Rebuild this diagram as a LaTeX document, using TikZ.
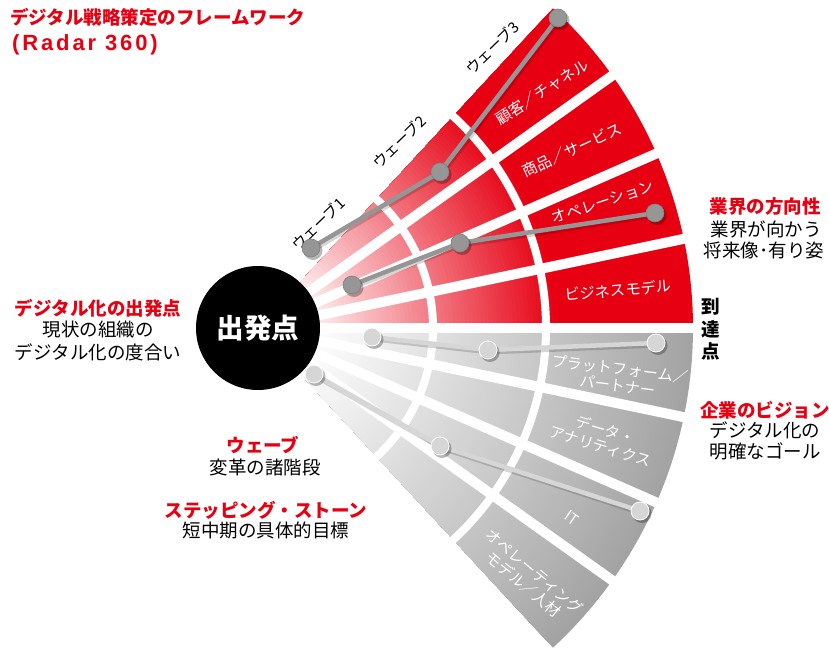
\documentclass[tikz,border=0pt]{standalone}
\usepackage{fontspec}
\setmainfont{Noto Sans CJK JP}
\newfontfamily\latinb{Liberation Sans}[LetterSpace=13]
\definecolor{rred}{RGB}{230,0,18}
\definecolor{dotdark}{RGB}{150,150,150}
\definecolor{dotlight}{RGB}{214,214,214}
\tikzset{
  sidered/.style={text=rred, font=\bfseries\fontsize{18.5}{22}\selectfont, inner sep=0pt},
  sideblk/.style={text=black, font=\fontsize{18.5}{22}\selectfont, inner sep=0pt},
  seclabel/.style={text=white, font=\fontsize{15.3}{17}\selectfont, align=center, inner sep=0pt},
  wavelabel/.style={text=black, font=\fontsize{15}{18}\selectfont, inner sep=0pt, rotate=44},
  rdot/.style={circle, fill=dotdark, draw=dotdark!85!black, line width=0.6pt, minimum size=18pt, inner sep=0pt},
  gdot/.style={circle, fill=dotlight, draw=white, line width=0.8pt, minimum size=18pt, inner sep=0pt},
  dotshadow/.style={fill=black, opacity=0.28},
  lineshadow/.style={draw=black, opacity=0.16, line width=5pt},
  rline/.style={draw=dotdark, line width=4.5pt},
  gline/.style={draw=dotlight, line width=4.5pt},
  gapline/.style={draw=white, line width=10pt},
  gaparc/.style={draw=white, line width=8pt},
}
\begin{document}
\begin{tikzpicture}[x=1pt,y=1pt]
\useasboundingbox (0,0) rectangle (829,648);
\fill[white] (0,0) rectangle (829,648);
\coordinate (C) at (258,320);

% fan with radial gradient
\foreach \r in {435,431,...,51}{
  \pgfmathsetmacro\pr{min(100,max(6,8+(\r-62)/238*92))}
  \pgfmathsetmacro\pg{max(1,(\r-55)/380*36)}
  \fill[rred!\pr!white] (C) -- ++(0:\r) arc[start angle=0,end angle=47.3,radius=\r] -- cycle;
  \fill[black!\pg] (C) -- ++(-47.3:\r) arc[start angle=-47.3,end angle=0,radius=\r] -- cycle;
}
% white gaps
\foreach \a in {0,11.825,23.65,35.475,-11.825,-23.65,-35.475}{
  \draw[gapline] (C) -- ++(\a:445);
}
\draw[gaparc] (C) ++(-50:175) arc[start angle=-50,end angle=50,radius=175];
\draw[gaparc] (C) ++(-50:288) arc[start angle=-50,end angle=50,radius=288];

% start circle
\node[circle, fill=black, minimum size=124pt, inner sep=0pt, text=white,
      font=\bfseries\fontsize{27.5}{30}\selectfont] (start) at (C) {出発点};

% sector labels
\node[seclabel, rotate=33] (s1) at (542,556) {顧客／チャネル};
\node[seclabel, rotate=25] (s2) at (572,498) {商品／サービス};
\node[seclabel, rotate=18] (s3) at (603,446) {オペレーション};
\node[seclabel, rotate=5]  (s4) at (618,358) {ビジネスモデル};
\node[seclabel, rotate=-7] (s5) at (619,271) {プラットフォーム／\\パートナー};
\node[seclabel, rotate=-17] (s6) at (603,210) {データ・\\アナリティクス};
\node[seclabel, rotate=-35] (s7) at (572,130) {IT};
\node[seclabel, rotate=-40] (s8) at (529,70) {オペレーティング\\モデル／人材};

% wave labels
\node[wavelabel] (w1) at (318,424) {ウェーブ1};
\node[wavelabel] (w2) at (399,506) {ウェーブ2};
\node[wavelabel] (w3) at (492,600) {ウェーブ3};

% data points
\coordinate (p1) at (311,400); \coordinate (p2) at (440,476); \coordinate (p3) at (558,630);
\coordinate (q1) at (352,363); \coordinate (q2) at (460,405); \coordinate (q3) at (655,435);
\coordinate (r1) at (372,311); \coordinate (r2) at (488,298); \coordinate (r3) at (656,305);
\coordinate (t1) at (314,274); \coordinate (t2) at (440,202); \coordinate (t3) at (640,137);

% shadows of lines
\foreach \a/\b in {p1/p2,p2/p3,q1/q2,q2/q3,r1/r2,r2/r3,t1/t2,t2/t3}{
  \draw[lineshadow] ([shift={(1.5,-2)}]\a) -- ([shift={(1.5,-2)}]\b);
}
% lines
\draw[rline] (p1) -- (p2) -- (p3);
\draw[rline] (q1) -- (q2) -- (q3);
\draw[gline] (r1) -- (r2) -- (r3);
\draw[gline] (t1) -- (t2) -- (t3);
% dots
\foreach \c in {p1,p2,p3,q1,q2,q3,r1,r2,r3,t1,t2,t3}{
  \fill[dotshadow] ([shift={(2,-2.5)}]\c) circle (9.5);
}
\foreach \c in {p1,p2,p3,q1,q2,q3}{ \node[rdot] (d\c) at (\c) {}; }
\foreach \c in {r1,r2,r3,t1,t2,t3}{ \node[gdot] (d\c) at (\c) {}; }

% title
\node[sidered, anchor=west] (title1) at (10,631) {デジタル戦略策定のフレームワーク};
\node[sidered, anchor=west, font=\latinb\bfseries\fontsize{22}{24}\selectfont] (title2) at (12,603) {(Radar 360)};

% left texts
\node[sidered] (l1) at (98,340) {デジタル化の出発点};
\node[sideblk] (l2) at (98,318) {現状の組織の};
\node[sideblk] (l3) at (98,296) {デジタル化の度合い};

% right texts
\node[sidered] (g1) at (765,441) {業界の方向性};
\node[sideblk] (g2) at (766,419) {業界が向かう};
\node[sideblk] (g3) at (764,398) {将来像･有り姿};

\node[sidered, text=black] (z1) at (711,341) {到};
\node[sidered, text=black] (z2) at (711,319) {達};
\node[sidered, text=black] (z3) at (711,297) {点};

\node[sidered] (v1) at (765,238) {企業のビジョン};
\node[sideblk] (v2) at (765,218) {デジタル化の};
\node[sideblk] (v3) at (765,197) {明確なゴール};

% bottom texts
\node[sidered] (b1) at (263,203) {ウェーブ};
\node[sideblk] (b2) at (265,181) {変革の諸階段};
\node[sidered] (b3) at (266,138) {ステッピング・ストーン};
\node[sideblk] (b4) at (266,118) {短中期の具体的目標};
\end{tikzpicture}
\end{document}
